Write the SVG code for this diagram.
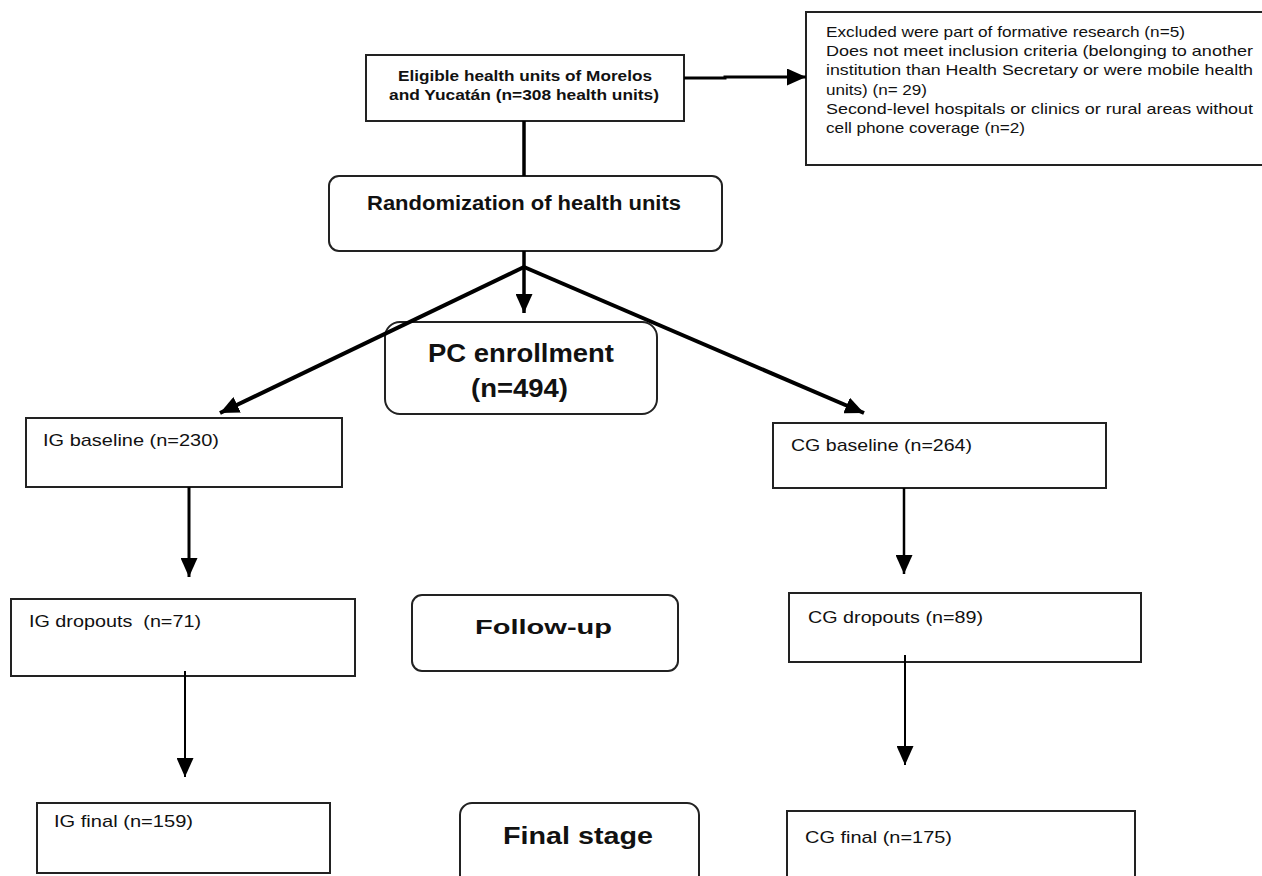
<svg xmlns="http://www.w3.org/2000/svg" width="1262" height="876" viewBox="0 0 1262 876">
<style>
.box{fill:#fff;stroke:#222;stroke-width:2}
.t{font-family:"Liberation Sans",Arial,sans-serif;fill:#111;font-size:17px}
.tb{font-family:"Liberation Sans",Arial,sans-serif;fill:#111;font-weight:bold}
.ex{font-family:"Liberation Sans",Arial,sans-serif;fill:#111;font-size:15px}
.c{stroke:#000;fill:none;stroke-linecap:butt}
</style>
<defs>
<marker id="ah" markerUnits="userSpaceOnUse" markerWidth="19" markerHeight="17" refX="19" refY="8.5" orient="auto">
<path d="M0,0 L19,8.5 L0,17 z" fill="#000"/>
</marker>
</defs>
<rect width="1262" height="876" fill="#fff"/>
<g id="eligible">
<rect class="box" x="366" y="55" width="318" height="66"/>
<text class="tb" font-size="15.5" x="398" y="80.5" textLength="254" lengthAdjust="spacingAndGlyphs">Eligible health units of Morelos</text>
<text class="tb" font-size="15.5" x="389" y="99.5" textLength="270" lengthAdjust="spacingAndGlyphs">and Yucatán (n=308 health units)</text>
</g>
<g id="excluded">
<rect class="box" x="806" y="12" width="470" height="153"/>
<text class="ex" x="826" y="37" textLength="359" lengthAdjust="spacingAndGlyphs">Excluded were part of formative research (n=5)</text>
<text class="ex" x="826" y="56" textLength="427" lengthAdjust="spacingAndGlyphs">Does not meet inclusion criteria (belonging to another</text>
<text class="ex" x="826" y="75" textLength="427" lengthAdjust="spacingAndGlyphs">institution than Health Secretary or were mobile health</text>
<text class="ex" x="826" y="95" textLength="101" lengthAdjust="spacingAndGlyphs">units) (n= 29)</text>
<text class="ex" x="826" y="114" textLength="427" lengthAdjust="spacingAndGlyphs">Second-level hospitals or clinics or rural areas without</text>
<text class="ex" x="826" y="133" textLength="199" lengthAdjust="spacingAndGlyphs">cell phone coverage (n=2)</text>
</g>
<g id="randomization">
<rect class="box" x="329" y="176" width="393" height="75" rx="10"/>
<text class="tb" font-size="20" x="367" y="210" textLength="314" lengthAdjust="spacingAndGlyphs">Randomization of health units</text>
</g>
<g id="pc-enrollment">
<rect class="box" x="385" y="322" width="272" height="92" rx="15"/>
<text class="tb" font-size="25" x="428" y="362" textLength="186" lengthAdjust="spacingAndGlyphs">PC enrollment</text>
<text class="tb" font-size="25" x="471" y="397" textLength="97" lengthAdjust="spacingAndGlyphs">(n=494)</text>
</g>
<g id="ig-baseline">
<rect class="box" x="26" y="418" width="316" height="69"/>
<text class="t" x="43" y="446" textLength="176" lengthAdjust="spacingAndGlyphs">IG baseline (n=230)</text>
</g>
<g id="cg-baseline">
<rect class="box" x="773" y="423" width="333" height="65"/>
<text class="t" x="791" y="451" textLength="181" lengthAdjust="spacingAndGlyphs">CG baseline (n=264)</text>
</g>
<g id="ig-dropouts">
<rect class="box" x="11" y="599" width="344" height="77"/>
<text class="t" x="29" y="627" textLength="172" lengthAdjust="spacingAndGlyphs" xml:space="preserve">IG dropouts  (n=71)</text>
</g>
<g id="follow-up">
<rect class="box" x="412" y="595" width="266" height="76" rx="10"/>
<text class="tb" font-size="21" x="475" y="634" textLength="137" lengthAdjust="spacingAndGlyphs">Follow-up</text>
</g>
<g id="cg-dropouts">
<rect class="box" x="789" y="593" width="352" height="69"/>
<text class="t" x="808" y="623" textLength="175" lengthAdjust="spacingAndGlyphs">CG dropouts (n=89)</text>
</g>
<g id="ig-final">
<rect class="box" x="37" y="803" width="293" height="70" stroke-width="2.5"/>
<text class="t" x="54" y="827" textLength="139" lengthAdjust="spacingAndGlyphs">IG final (n=159)</text>
</g>
<g id="final-stage">
<rect class="box" x="460" y="803" width="239" height="90" rx="12"/>
<text class="tb" font-size="23" x="503" y="844" textLength="150" lengthAdjust="spacingAndGlyphs">Final stage</text>
</g>
<g id="cg-final">
<rect class="box" x="787" y="811" width="348" height="80" stroke-width="2.5"/>
<text class="t" x="805" y="843" textLength="147" lengthAdjust="spacingAndGlyphs">CG final (n=175)</text>
</g>
<g id="connectors">
<path class="c" stroke-width="3" d="M684,78 L725,78 L725,77 L806,77" marker-end="url(#ah)"/>
<line class="c" stroke-width="3.5" x1="524" y1="121" x2="524" y2="176"/>
<line class="c" stroke-width="3.5" x1="524" y1="251" x2="524" y2="268"/>
<line class="c" stroke-width="3.5" x1="524" y1="267" x2="524" y2="313" marker-end="url(#ah)"/>
<line class="c" stroke-width="4" x1="524" y1="267" x2="220" y2="413" marker-end="url(#ah)"/>
<line class="c" stroke-width="4" x1="524" y1="267" x2="864" y2="413" marker-end="url(#ah)"/>
<line class="c" stroke-width="3" x1="189" y1="487" x2="189" y2="577" marker-end="url(#ah)"/>
<line class="c" stroke-width="2.5" x1="904" y1="488" x2="904" y2="574" marker-end="url(#ah)"/>
<line class="c" stroke-width="2" x1="185" y1="671" x2="185" y2="777" marker-end="url(#ah)"/>
<line class="c" stroke-width="2" x1="905" y1="655" x2="905" y2="765" marker-end="url(#ah)"/>
</g>
</svg>
